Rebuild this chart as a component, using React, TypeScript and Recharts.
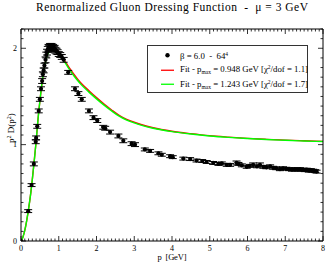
import React from 'react';
import { ComposedChart, XAxis, YAxis, Scatter, Line, ErrorBar, Legend } from 'recharts';

// Lattice data: beta = 6.0, 64^4
const latticeP = [0.0, 0.19, 0.28, 0.34, 0.39, 0.40, 0.43, 0.47, 0.50, 0.53, 0.56, 0.58, 0.60, 0.62, 0.65, 0.67, 0.69, 0.71, 0.73, 0.75, 0.77, 0.79, 0.81, 0.83, 0.85, 0.87, 0.89, 0.91, 0.94, 0.97, 1.00, 1.04, 1.08, 1.13, 1.25, 1.43, 1.52, 1.61, 1.80, 1.92, 2.02, 2.18, 2.23, 2.36, 2.58, 2.71, 2.93, 3.02, 3.28, 3.42, 3.64, 3.73, 3.95, 4.02, 4.30, 4.48, 4.65, 4.80, 4.92, 5.09, 5.23, 5.32, 5.45, 5.54, 5.71, 5.76, 5.85, 5.98, 6.06, 6.15, 6.25, 6.33, 6.42, 6.50, 6.60, 6.68, 6.76, 6.86, 6.94, 7.03, 7.10, 7.18, 7.25, 7.32, 7.39, 7.45, 7.52, 7.57, 7.63, 7.68, 7.74, 7.79, 7.83];
const latticeD = [0.0, 0.31, 0.58, 0.80, 1.03, 1.07, 1.19, 1.35, 1.47, 1.58, 1.66, 1.73, 1.77, 1.82, 1.88, 1.93, 1.96, 1.99, 2.01, 2.0, 2.02, 2.01, 2.02, 2.0, 2.01, 1.99, 2.0, 1.98, 1.97, 1.96, 1.94, 1.93, 1.91, 1.88, 1.75, 1.58, 1.53, 1.47, 1.35, 1.28, 1.25, 1.18, 1.17, 1.13, 1.09, 1.04, 1.01, 1.0, 0.95, 0.935, 0.91, 0.895, 0.88, 0.87, 0.855, 0.85, 0.835, 0.83, 0.82, 0.81, 0.8, 0.805, 0.79, 0.79, 0.81, 0.8, 0.785, 0.77, 0.78, 0.79, 0.775, 0.79, 0.77, 0.765, 0.775, 0.76, 0.755, 0.745, 0.755, 0.75, 0.745, 0.74, 0.745, 0.74, 0.745, 0.74, 0.735, 0.74, 0.73, 0.735, 0.73, 0.725, 0.72];
const latticeErr = [0, 0.015, 0.015, 0.02, 0.02, 0.02, 0.02, 0.02, 0.02, 0.02, 0.025, 0.025, 0.025, 0.025, 0.03, 0.03, 0.03, 0.03, 0.03, 0.03, 0.03, 0.03, 0.03, 0.03, 0.03, 0.03, 0.03, 0.03, 0.03, 0.025, 0.025, 0.025, 0.025, 0.025, 0.02, 0.02, 0.02, 0.02, 0.02, 0.02, 0.02, 0.02, 0.02, 0.02, 0.02, 0.02, 0.02, 0.02, 0.015, 0.015, 0.015, 0.015, 0.015, 0.015, 0.015, 0.015, 0.015, 0.015, 0.015, 0.015, 0.015, 0.015, 0.015, 0.015, 0.02, 0.015, 0.015, 0.015, 0.015, 0.02, 0.015, 0.02, 0.015, 0.015, 0.015, 0.015, 0.015, 0.015, 0.015, 0.015, 0.015, 0.015, 0.015, 0.015, 0.015, 0.015, 0.015, 0.015, 0.015, 0.015, 0.015, 0.015, 0.015];

// Fit curves
const fitP = [0, 0.05, 0.1, 0.15, 0.2, 0.25, 0.3, 0.35, 0.4, 0.45, 0.5, 0.55, 0.6, 0.65, 0.7, 0.75, 0.8, 0.85, 0.9, 0.95, 1.0, 1.1, 1.2, 1.3, 1.4, 1.5, 1.6, 1.8, 2.0, 2.2, 2.4, 2.6, 2.8, 3.0, 3.2, 3.5, 4.0, 4.5, 5.0, 5.5, 6.0, 6.5, 7.0, 7.5, 8.0];
const fitGreen = [0, 0.04, 0.11, 0.21, 0.33, 0.47, 0.64, 0.83, 1.03, 1.26, 1.45, 1.62, 1.76, 1.86, 1.93, 1.97, 1.995, 2.0, 1.99, 1.97, 1.945, 1.89, 1.83, 1.77, 1.715, 1.665, 1.62, 1.545, 1.475, 1.41, 1.35, 1.295, 1.255, 1.225, 1.2, 1.17, 1.135, 1.11, 1.09, 1.075, 1.063, 1.053, 1.045, 1.038, 1.032];
const fitRed = [0, 0.04, 0.11, 0.21, 0.33, 0.47, 0.64, 0.83, 1.03, 1.26, 1.45, 1.62, 1.765, 1.865, 1.937, 1.978, 2.005, 2.01, 2.0, 1.985, 1.96, 1.905, 1.845, 1.785, 1.73, 1.68, 1.635, 1.56, 1.488, 1.421, 1.36, 1.304, 1.263, 1.232, 1.206, 1.175, 1.139, 1.114, 1.093, 1.078, 1.065, 1.055, 1.047, 1.04, 1.034];

const xTicks = Array.from({ length: 81 }, (_, i) => +(i / 10).toFixed(1));
const yTicks = Array.from({ length: 23 }, (_, i) => +(i / 10).toFixed(1));

const titleText = 'Renormalized Gluon Dressing Function  -  \u03bc = 3 GeV';
const xLabelText = 'p  [GeV]';

const latticeRows = latticeP.map((p, i) => ({ p, v: latticeD[i], err: latticeErr[i] }));
const redRows = fitP.map((p, i) => ({ p, v: fitRed[i] }));
const greenRows = fitP.map((p, i) => ({ p, v: fitGreen[i] }));

const FONT = '"Liberation Serif", "DejaVu Serif", serif';
const isMajor = (v: number) => Math.abs(v - Math.round(v)) < 1e-6;
const MAJ = 5;
const MIN = 2.5;

const BottomTick = (props: any) => {
  const { x, y, payload } = props;
  const v = payload.value;
  const m = isMajor(v);
  return (
    <g>
      <line x1={x} x2={x} y1={y} y2={y - (m ? MAJ : MIN)} stroke="#000" strokeWidth={0.8} />
      {m && (
        <text x={x} y={y + 10} textAnchor="middle" fontSize={8} fontFamily={FONT} fill="#000">
          {Math.round(v)}
        </text>
      )}
    </g>
  );
};

const TopTick = (props: any) => {
  const { x, y, payload } = props;
  const m = isMajor(payload.value);
  return <line x1={x} x2={x} y1={y} y2={y + (m ? MAJ : MIN)} stroke="#000" strokeWidth={0.8} />;
};

const LeftTick = (props: any) => {
  const { x, y, payload } = props;
  const v = payload.value;
  const m = isMajor(v);
  return (
    <g>
      <line x1={x} x2={x + (m ? MAJ : MIN)} y1={y} y2={y} stroke="#000" strokeWidth={0.8} />
      {m && (
        <text x={x - 4} y={y + 2.7} textAnchor="end" fontSize={8} fontFamily={FONT} fill="#000">
          {Math.round(v)}
        </text>
      )}
    </g>
  );
};

const RightTick = (props: any) => {
  const { x, y, payload } = props;
  const m = isMajor(payload.value);
  return <line x1={x} x2={x - (m ? MAJ : MIN)} y1={y} y2={y} stroke="#000" strokeWidth={0.8} />;
};

const LegendBox = () => {
  const row: React.CSSProperties = { display: 'flex', alignItems: 'center', height: 14.5, whiteSpace: 'pre' };
  const sym: React.CSSProperties = { width: 32, height: 14.5, flex: 'none' };
  const sub: React.CSSProperties = { fontSize: 5.5, verticalAlign: -2 };
  const sup: React.CSSProperties = { fontSize: 5.5, verticalAlign: 3 };
  return (
    <div style={{ border: '1px solid #333', background: '#fff', width: 161, height: 48, paddingTop: 2, boxSizing: 'border-box', fontFamily: FONT, fontSize: 8.8, color: '#000', lineHeight: '10px' }}>
      <div style={row}>
        <svg style={sym} width={32} height={14.5}>
          <circle cx={19.5} cy={7.25} r={2.2} fill="#000" />
        </svg>
        <span>
          {'\u03b2 = 6.0  -  64'}
          <span style={sup}>4</span>
        </span>
      </div>
      <div style={row}>
        <svg style={sym} width={32} height={14.5}>
          <line x1={13} x2={26} y1={7.25} y2={7.25} stroke="#ff0000" strokeWidth={1.3} />
        </svg>
        <span>
          {'Fit - p'}
          <span style={sub}>max</span>
          {' = 0.948 GeV [\u03c7'}
          <span style={sup}>2</span>
          {'/dof = 1.1]'}
        </span>
      </div>
      <div style={row}>
        <svg style={sym} width={32} height={14.5}>
          <line x1={13} x2={26} y1={7.25} y2={7.25} stroke="#00ff00" strokeWidth={1.3} />
        </svg>
        <span>
          {'Fit - p'}
          <span style={sub}>max</span>
          {' = 1.243 GeV [\u03c7'}
          <span style={sup}>2</span>
          {'/dof = 1.7]'}
        </span>
      </div>
    </div>
  );
};

const Dot = (props: any) => <circle cx={props.cx} cy={props.cy} r={2.1} fill="#000" />;

const W = 327;
const H = 262;
const M = { top: 28, right: 3, bottom: 20, left: 20 };
const PLOT_L = M.left + 1;
const PLOT_R = W - M.right - 1;
const PLOT_T = M.top + 1;
const PLOT_B = H - M.bottom - 1;

export default function App() {
  const cx = (PLOT_L + PLOT_R) / 2;
  const ly = (PLOT_T + PLOT_B) / 2 - 7;
  const lx = 14;
  return (
    <div style={{ position: 'absolute', left: 0, top: 0, width: W, height: H, background: '#fff' }}>
      <ComposedChart width={W} height={H} margin={M}>
        <XAxis xAxisId="b" dataKey="p" type="number" domain={[0, 8]} ticks={xTicks} interval={0} height={1}
          tickSize={0} tickMargin={0} tickLine={false} tick={BottomTick} axisLine={{ stroke: '#000', strokeWidth: 1 }} allowDataOverflow />
        <XAxis xAxisId="t" orientation="top" dataKey="p" type="number" domain={[0, 8]} ticks={xTicks} interval={0} height={1}
          tickSize={0} tickMargin={0} tickLine={false} tick={TopTick} axisLine={{ stroke: '#000', strokeWidth: 1 }} allowDataOverflow />
        <YAxis yAxisId="l" type="number" domain={[0, 2.2]} ticks={yTicks} interval={0} width={1}
          tickSize={0} tickMargin={0} tickLine={false} tick={LeftTick} axisLine={{ stroke: '#000', strokeWidth: 1 }} allowDataOverflow />
        <YAxis yAxisId="r" orientation="right" type="number" domain={[0, 2.2]} ticks={yTicks} interval={0} width={1}
          tickSize={0} tickMargin={0} tickLine={false} tick={RightTick} axisLine={{ stroke: '#000', strokeWidth: 1 }} allowDataOverflow />
        <Line xAxisId="t" yAxisId="r" data={redRows} dataKey="v" type="monotone" stroke="#ff0000" strokeWidth={1.4} dot={false} isAnimationActive={false} />
        <Line xAxisId="b" yAxisId="l" data={greenRows} dataKey="v" type="monotone" stroke="#00ff00" strokeWidth={1.4} dot={false} isAnimationActive={false} />
        <Scatter xAxisId="b" yAxisId="l" data={latticeRows} dataKey="v" shape={Dot} isAnimationActive={false}>
          <ErrorBar dataKey="err" direction="y" width={4} stroke="#000" strokeWidth={1} isAnimationActive={false} />
        </Scatter>
        <Legend layout="vertical" align="center" verticalAlign="middle" content={LegendBox}
          wrapperStyle={{ position: 'absolute', left: 147, top: 45, width: 161, height: 48 }} />
      </ComposedChart>
      <svg width={W} height={H} style={{ position: 'absolute', left: 0, top: 0, pointerEvents: 'none' }}>
        <text x={cx} y={10.5} textAnchor="middle" fontSize={11.5} fontFamily={FONT} fill="#000"
          textLength={272} lengthAdjust="spacing" style={{ whiteSpace: 'pre' }}>
          {titleText}
        </text>
        <text x={cx} y={PLOT_B + 18.5} textAnchor="middle" fontSize={8.5} fontFamily={FONT} fill="#000"
          textLength={29} lengthAdjust="spacing" style={{ whiteSpace: 'pre' }}>
          {xLabelText}
        </text>
        <g transform={`rotate(-90 ${lx} ${ly})`}>
          <text x={lx} y={ly} textAnchor="middle" fontSize={9} fontFamily={FONT} fill="#000">
            <tspan>p</tspan>
            <tspan fontSize={6} dy={-3.5}>2</tspan>
            <tspan dy={3.5}> D(p</tspan>
            <tspan fontSize={6} dy={-3.5}>2</tspan>
            <tspan dy={3.5}>)</tspan>
          </text>
        </g>
      </svg>
    </div>
  );
}
